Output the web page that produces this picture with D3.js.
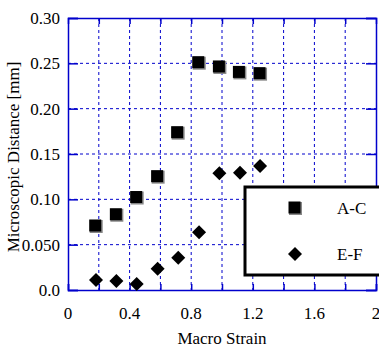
<!DOCTYPE html>
<html lang="en">
<head>
<meta charset="utf-8">
<script src="https://cdn.jsdelivr.net/npm/d3@7"></script>
<style>
  body { margin: 0; background: #fff; }
</style>
</head>
<body>
<div id="chart"></div>
<script>
// data
var strainAC = [0.18, 0.314, 0.446, 0.582, 0.712, 0.849, 0.983, 1.113, 1.247];
var distAC   = [0.0706, 0.083, 0.102, 0.125, 0.1735, 0.2507, 0.246, 0.240, 0.2386];
var strainEF = [0.182, 0.314, 0.446, 0.582, 0.716, 0.851, 0.983, 1.117, 1.247];
var distEF   = [0.011, 0.0099, 0.0066, 0.0235, 0.0357, 0.0636, 0.1287, 0.1294, 0.1368];
var xTicks = [0, 0.4, 0.8, 1.2, 1.6, 2];
var xTickLabels = ["0", "0.4", "0.8", "1.2", "1.6", "2"];
var xGrid = [0.2, 0.4, 0.6, 0.8, 1.0, 1.2, 1.4, 1.6, 1.8];
var yTicks = [0, 0.05, 0.10, 0.15, 0.20, 0.25, 0.30];
var yTickLabels = ["0.0", "0.050", "0.10", "0.15", "0.20", "0.25", "0.30"];
var seriesNames = ["A-C", "E-F"];

var W = 379, H = 349;
var margin = {top: 18, right: 3, bottom: 59, left: 68};
var width = W - margin.left - margin.right,
    height = H - margin.top - margin.bottom;
var blue = "#0000cc";
var font = "'Liberation Serif', 'Times New Roman', 'DejaVu Serif', serif";

var svg = d3.select("#chart").append("svg")
    .attr("width", W).attr("height", H)
    .attr("font-family", font);
var g = svg.append("g")
    .attr("transform", "translate(" + margin.left + "," + margin.top + ")");

var x = d3.scaleLinear().domain([0, 2]).range([0, width]);
var y = d3.scaleLinear().domain([0, 0.30]).range([height, 0]);

// grid
g.selectAll(".vg").data(xGrid).enter().append("line")
    .attr("x1", d => x(d)).attr("x2", d => x(d))
    .attr("y1", 0).attr("y2", height)
    .attr("stroke", blue).attr("stroke-width", 1)
    .attr("stroke-dasharray", "3,3");
g.selectAll(".hg").data(yTicks.slice(1, -1)).enter().append("line")
    .attr("y1", d => y(d)).attr("y2", d => y(d))
    .attr("x1", 0).attr("x2", width)
    .attr("stroke", blue).attr("stroke-width", 1)
    .attr("stroke-dasharray", "3,3");

// frame and inner ticks
var xAxis = d3.axisBottom(x).tickValues(xGrid.concat([0, 2])).tickSize(-6).tickFormat("");
g.append("g").attr("transform", "translate(0," + height + ")").call(xAxis);
g.append("g").call(d3.axisTop(x).tickValues(xGrid).tickSize(-6).tickFormat(""));
g.append("g").call(d3.axisLeft(y).tickValues(yTicks).tickSize(-10).tickFormat(""));
g.append("g").attr("transform", "translate(" + width + ",0)")
    .call(d3.axisRight(y).tickValues(yTicks).tickSize(-10).tickFormat(""));
g.selectAll(".domain, .tick line").attr("stroke", blue).attr("stroke-width", 1.5);

// tick labels
g.selectAll(".xl").data(xTicks).enter().append("text")
    .attr("x", d => x(d)).attr("y", height + 29)
    .attr("text-anchor", "middle").attr("font-size", 17)
    .text((d, i) => xTickLabels[i]);
g.selectAll(".yl").data(yTicks).enter().append("text")
    .attr("x", -8).attr("y", d => y(d)).attr("dy", "0.35em")
    .attr("text-anchor", "end").attr("font-size", 17)
    .text((d, i) => yTickLabels[i]);

// axis titles
svg.append("text")
    .attr("x", margin.left + x(1)).attr("y", 344)
    .attr("text-anchor", "middle").attr("font-size", 17)
    .text("Macro Strain");
svg.append("text")
    .attr("transform", "translate(19,157) rotate(-90)")
    .attr("text-anchor", "middle").attr("font-size", 17)
    .text("Microscopic Distance [mm]");

// markers
function square(sel) {
    sel.append("rect").attr("x", -6).attr("y", -6).attr("width", 13).attr("height", 13)
        .attr("fill", "#888");
    sel.append("rect").attr("x", -6.5).attr("y", -6.5).attr("width", 12).attr("height", 12)
        .attr("fill", "#000");
}
function diamond(sel) {
    sel.append("path").attr("d", "M0,-7L7,0L0,7L-7,0Z").attr("fill", "#000");
}

g.selectAll(".ac").data(strainAC).enter().append("g")
    .attr("transform", (d, i) => "translate(" + x(d) + "," + y(distAC[i]) + ")")
    .call(square);
g.selectAll(".ef").data(strainEF).enter().append("g")
    .attr("transform", (d, i) => "translate(" + x(d) + "," + y(distEF[i]) + ")")
    .call(diamond);

// legend
var lg = svg.append("g");
lg.append("rect").attr("x", 245).attr("y", 187).attr("width", 136).attr("height", 88)
    .attr("fill", "#fff").attr("stroke", "#000").attr("stroke-width", 3);
lg.append("g").attr("transform", "translate(295,208)").call(square);
lg.append("g").attr("transform", "translate(295,254)").call(diamond);
lg.selectAll(".lt").data(seriesNames).enter().append("text")
    .attr("x", 337).attr("y", (d, i) => 208 + i * 46).attr("dy", "0.35em")
    .attr("font-size", 17).text(d => d);
</script>
</body>
</html>
